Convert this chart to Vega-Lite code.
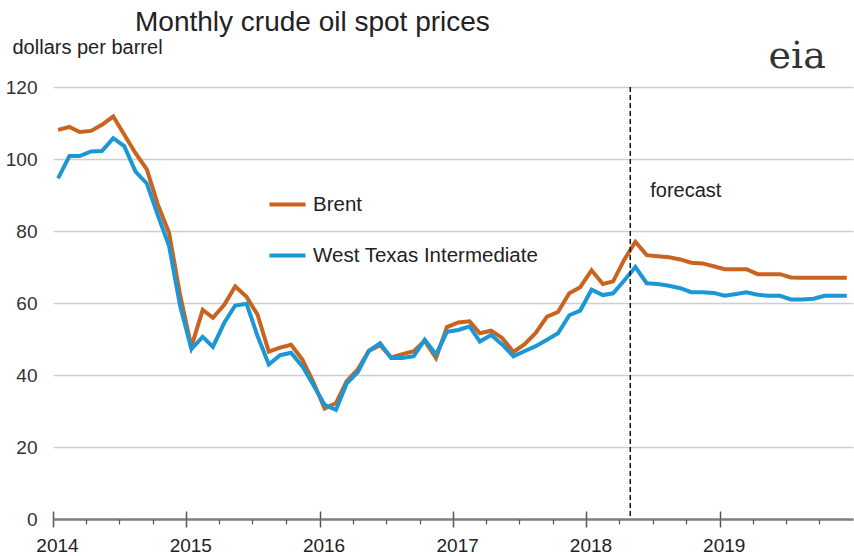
{
  "$schema": "https://vega.github.io/schema/vega-lite/v6.json",
  "width": 800,
  "height": 432,
  "autosize": {"type": "none"},
  "padding": {"left": 53, "top": 87, "right": 1, "bottom": 37},
  "background": "white",
  "config": {
    "font": "Liberation Sans",
    "view": {"stroke": null},
    "axis": {"labelFont": "Liberation Sans", "titleFont": "Liberation Sans"}
  },
  "title": {
    "text": "Monthly crude oil spot prices",
    "anchor": "start",
    "frame": "group",
    "dx": 82,
    "dy": 4,
    "fontSize": 28,
    "fontWeight": "normal",
    "color": "#222222",
    "offset": 4
  },
  "datasets": {
    "prices": [
      {"month": "2014-01-15T00:00:00", "Brent": 108.1, "West Texas Intermediate": 94.6},
      {"month": "2014-02-15T00:00:00", "Brent": 108.9, "West Texas Intermediate": 100.8},
      {"month": "2014-03-15T00:00:00", "Brent": 107.5, "West Texas Intermediate": 100.8},
      {"month": "2014-04-15T00:00:00", "Brent": 107.8, "West Texas Intermediate": 102.1},
      {"month": "2014-05-15T00:00:00", "Brent": 109.5, "West Texas Intermediate": 102.2},
      {"month": "2014-06-15T00:00:00", "Brent": 111.8, "West Texas Intermediate": 105.8},
      {"month": "2014-07-15T00:00:00", "Brent": 106.8, "West Texas Intermediate": 103.6},
      {"month": "2014-08-15T00:00:00", "Brent": 101.6, "West Texas Intermediate": 96.5},
      {"month": "2014-09-15T00:00:00", "Brent": 97.1, "West Texas Intermediate": 93.2},
      {"month": "2014-10-15T00:00:00", "Brent": 87.4, "West Texas Intermediate": 84.4},
      {"month": "2014-11-15T00:00:00", "Brent": 79.4, "West Texas Intermediate": 75.8},
      {"month": "2014-12-15T00:00:00", "Brent": 62.3, "West Texas Intermediate": 59.3},
      {"month": "2015-01-15T00:00:00", "Brent": 47.8, "West Texas Intermediate": 47.2},
      {"month": "2015-02-15T00:00:00", "Brent": 58.1, "West Texas Intermediate": 50.6},
      {"month": "2015-03-15T00:00:00", "Brent": 55.9, "West Texas Intermediate": 47.8},
      {"month": "2015-04-15T00:00:00", "Brent": 59.5, "West Texas Intermediate": 54.5},
      {"month": "2015-05-15T00:00:00", "Brent": 64.6, "West Texas Intermediate": 59.3},
      {"month": "2015-06-15T00:00:00", "Brent": 61.7, "West Texas Intermediate": 59.8},
      {"month": "2015-07-15T00:00:00", "Brent": 56.8, "West Texas Intermediate": 50.9},
      {"month": "2015-08-15T00:00:00", "Brent": 46.5, "West Texas Intermediate": 42.9},
      {"month": "2015-09-15T00:00:00", "Brent": 47.6, "West Texas Intermediate": 45.5},
      {"month": "2015-10-15T00:00:00", "Brent": 48.4, "West Texas Intermediate": 46.2},
      {"month": "2015-11-15T00:00:00", "Brent": 44.3, "West Texas Intermediate": 42.4},
      {"month": "2015-12-15T00:00:00", "Brent": 38.0, "West Texas Intermediate": 37.2},
      {"month": "2016-01-15T00:00:00", "Brent": 30.7, "West Texas Intermediate": 31.7},
      {"month": "2016-02-15T00:00:00", "Brent": 32.2, "West Texas Intermediate": 30.3},
      {"month": "2016-03-15T00:00:00", "Brent": 38.2, "West Texas Intermediate": 37.6},
      {"month": "2016-04-15T00:00:00", "Brent": 41.6, "West Texas Intermediate": 40.8},
      {"month": "2016-05-15T00:00:00", "Brent": 46.7, "West Texas Intermediate": 46.7},
      {"month": "2016-06-15T00:00:00", "Brent": 48.3, "West Texas Intermediate": 48.8},
      {"month": "2016-07-15T00:00:00", "Brent": 44.9, "West Texas Intermediate": 44.7},
      {"month": "2016-08-15T00:00:00", "Brent": 45.8, "West Texas Intermediate": 44.7},
      {"month": "2016-09-15T00:00:00", "Brent": 46.6, "West Texas Intermediate": 45.2},
      {"month": "2016-10-15T00:00:00", "Brent": 49.5, "West Texas Intermediate": 49.8},
      {"month": "2016-11-15T00:00:00", "Brent": 44.7, "West Texas Intermediate": 45.7},
      {"month": "2016-12-15T00:00:00", "Brent": 53.3, "West Texas Intermediate": 52.0},
      {"month": "2017-01-15T00:00:00", "Brent": 54.6, "West Texas Intermediate": 52.5},
      {"month": "2017-02-15T00:00:00", "Brent": 54.9, "West Texas Intermediate": 53.5},
      {"month": "2017-03-15T00:00:00", "Brent": 51.6, "West Texas Intermediate": 49.3},
      {"month": "2017-04-15T00:00:00", "Brent": 52.3, "West Texas Intermediate": 51.1},
      {"month": "2017-05-15T00:00:00", "Brent": 50.3, "West Texas Intermediate": 48.5},
      {"month": "2017-06-15T00:00:00", "Brent": 46.4, "West Texas Intermediate": 45.2},
      {"month": "2017-07-15T00:00:00", "Brent": 48.5, "West Texas Intermediate": 46.6},
      {"month": "2017-08-15T00:00:00", "Brent": 51.7, "West Texas Intermediate": 48.0},
      {"month": "2017-09-15T00:00:00", "Brent": 56.2, "West Texas Intermediate": 49.8},
      {"month": "2017-10-15T00:00:00", "Brent": 57.5, "West Texas Intermediate": 51.6},
      {"month": "2017-11-15T00:00:00", "Brent": 62.7, "West Texas Intermediate": 56.6},
      {"month": "2017-12-15T00:00:00", "Brent": 64.4, "West Texas Intermediate": 57.9},
      {"month": "2018-01-15T00:00:00", "Brent": 69.1, "West Texas Intermediate": 63.7},
      {"month": "2018-02-15T00:00:00", "Brent": 65.3, "West Texas Intermediate": 62.2},
      {"month": "2018-03-15T00:00:00", "Brent": 66.0, "West Texas Intermediate": 62.7},
      {"month": "2018-04-15T00:00:00", "Brent": 72.1, "West Texas Intermediate": 66.3},
      {"month": "2018-05-15T00:00:00", "Brent": 77.0, "West Texas Intermediate": 70.0},
      {"month": "2018-06-15T00:00:00", "Brent": 73.3, "West Texas Intermediate": 65.5},
      {"month": "2018-07-15T00:00:00", "Brent": 73.0, "West Texas Intermediate": 65.3},
      {"month": "2018-08-15T00:00:00", "Brent": 72.7, "West Texas Intermediate": 64.8},
      {"month": "2018-09-15T00:00:00", "Brent": 72.1, "West Texas Intermediate": 64.1},
      {"month": "2018-10-15T00:00:00", "Brent": 71.2, "West Texas Intermediate": 63.0},
      {"month": "2018-11-15T00:00:00", "Brent": 71.0, "West Texas Intermediate": 63.0},
      {"month": "2018-12-15T00:00:00", "Brent": 70.2, "West Texas Intermediate": 62.8},
      {"month": "2019-01-15T00:00:00", "Brent": 69.4, "West Texas Intermediate": 62.0},
      {"month": "2019-02-15T00:00:00", "Brent": 69.4, "West Texas Intermediate": 62.5},
      {"month": "2019-03-15T00:00:00", "Brent": 69.4, "West Texas Intermediate": 63.0},
      {"month": "2019-04-15T00:00:00", "Brent": 68.0, "West Texas Intermediate": 62.3},
      {"month": "2019-05-15T00:00:00", "Brent": 68.0, "West Texas Intermediate": 62.0},
      {"month": "2019-06-15T00:00:00", "Brent": 68.0, "West Texas Intermediate": 62.0},
      {"month": "2019-07-15T00:00:00", "Brent": 67.1, "West Texas Intermediate": 61.0},
      {"month": "2019-08-15T00:00:00", "Brent": 67.0, "West Texas Intermediate": 61.0},
      {"month": "2019-09-15T00:00:00", "Brent": 67.0, "West Texas Intermediate": 61.2},
      {"month": "2019-10-15T00:00:00", "Brent": 67.0, "West Texas Intermediate": 62.0},
      {"month": "2019-11-15T00:00:00", "Brent": 67.0, "West Texas Intermediate": 62.0},
      {"month": "2019-12-15T00:00:00", "Brent": 67.0, "West Texas Intermediate": 62.0}
    ],
    "forecastStart": [{"month": "2018-05-01T00:00:00", "label": "forecast", "labelValue": 91}],
    "logo": [{"month": "2019-08-01T00:00:00", "value": 128, "label": "eia"}]
  },
  "resolve": {"axis": {"x": "independent"}},
  "layer": [
    {
      "data": {"name": "prices"},
      "transform": [{"fold": ["Brent", "West Texas Intermediate"], "as": ["series", "value"]}],
      "mark": {"type": "line", "strokeWidth": 4, "strokeJoin": "miter", "clip": false},
      "encoding": {
        "x": {
          "field": "month",
          "type": "temporal",
          "scale": {"domain": [{"year": 2014, "month": 1, "date": 1}, {"year": 2020, "month": 1, "date": 1}], "nice": false},
          "axis": {
            "orient": "bottom",
            "title": null,
            "values": [{"year": 2014}, {"year": 2015}, {"year": 2016}, {"year": 2017}, {"year": 2018}, {"year": 2019}],
            "format": "%Y",
            "tickSize": 8,
            "tickColor": "#555555",
            "tickWidth": 1.5,
            "domainColor": "#808080",
            "domainWidth": 2.5,
            "labelFontSize": 19,
            "labelColor": "#222222",
            "labelPadding": 9,
            "labelOffset": 4,
            "labelOverlap": false,
            "labelBound": false,
            "labelFlush": false,
            "grid": false
          }
        },
        "y": {
          "field": "value",
          "type": "quantitative",
          "scale": {"domain": [0, 120], "nice": false},
          "axis": {
            "title": "dollars per barrel",
            "titleAngle": 0,
            "titleX": -41,
            "titleY": -34,
            "titleAlign": "left",
            "titleBaseline": "alphabetic",
            "titleFontSize": 20,
            "titleFontWeight": "normal",
            "titleColor": "#222222",
            "values": [0, 20, 40, 60, 80, 100, 120],
            "grid": true,
            "gridColor": "#cfcfcf",
            "gridWidth": 1.5,
            "domain": false,
            "ticks": false,
            "labelFontSize": 19,
            "labelColor": "#333333",
            "labelPadding": 16
          }
        },
        "color": {
          "field": "series",
          "type": "nominal",
          "scale": {"domain": ["Brent", "West Texas Intermediate"], "range": ["#c8641f", "#1c97d6"]},
          "legend": {
            "orient": "none",
            "legendX": 214,
            "legendY": 97,
            "title": null,
            "symbolType": "stroke",
            "symbolSize": 1300,
            "symbolStrokeWidth": 4,
            "labelFontSize": 20.5,
            "labelColor": "#222222",
            "labelOffset": 5,
            "labelLimit": 400,
            "rowPadding": 20,
            "padding": 0
          }
        }
      }
    },
    {
      "data": {"name": "forecastStart"},
      "mark": {"type": "rule", "strokeDash": [5, 3], "strokeWidth": 1.5, "color": "#111111"},
      "encoding": {
        "x": {
          "field": "month",
          "type": "temporal",
          "axis": {
            "orient": "bottom",
            "title": null,
            "values": [
              {"year": 2014, "month": 4}, {"year": 2014, "month": 7}, {"year": 2014, "month": 10},
              {"year": 2015, "month": 4}, {"year": 2015, "month": 7}, {"year": 2015, "month": 10},
              {"year": 2016, "month": 4}, {"year": 2016, "month": 7}, {"year": 2016, "month": 10},
              {"year": 2017, "month": 4}, {"year": 2017, "month": 7}, {"year": 2017, "month": 10},
              {"year": 2018, "month": 4}, {"year": 2018, "month": 7}, {"year": 2018, "month": 10},
              {"year": 2019, "month": 4}, {"year": 2019, "month": 7}, {"year": 2019, "month": 10}
            ],
            "labels": false,
            "domain": false,
            "grid": false,
            "tickSize": 5,
            "tickColor": "#555555",
            "tickWidth": 1.2
          }
        }
      }
    },
    {
      "data": {"name": "forecastStart"},
      "mark": {"type": "text", "align": "left", "baseline": "middle", "dx": 20, "fontSize": 20, "color": "#222222"},
      "encoding": {
        "x": {
          "field": "month",
          "type": "temporal",
          "axis": {
            "orient": "bottom",
            "title": null,
            "values": [{"year": 2014}, {"year": 2015}, {"year": 2016}, {"year": 2017}, {"year": 2018}, {"year": 2019}],
            "labels": false,
            "domain": false,
            "grid": false,
            "tickSize": -8,
            "tickColor": "#555555",
            "tickWidth": 1.5
          }
        },
        "y": {"field": "labelValue", "type": "quantitative"},
        "text": {"field": "label"}
      }
    },
    {
      "data": {"name": "logo"},
      "mark": {"type": "text", "align": "center", "baseline": "alphabetic", "font": "DejaVu Serif", "fontSize": 38, "color": "#333333", "dy": 10},
      "encoding": {
        "x": {"field": "month", "type": "temporal", "axis": null},
        "y": {"field": "value", "type": "quantitative"},
        "text": {"field": "label"}
      }
    }
  ]
}
